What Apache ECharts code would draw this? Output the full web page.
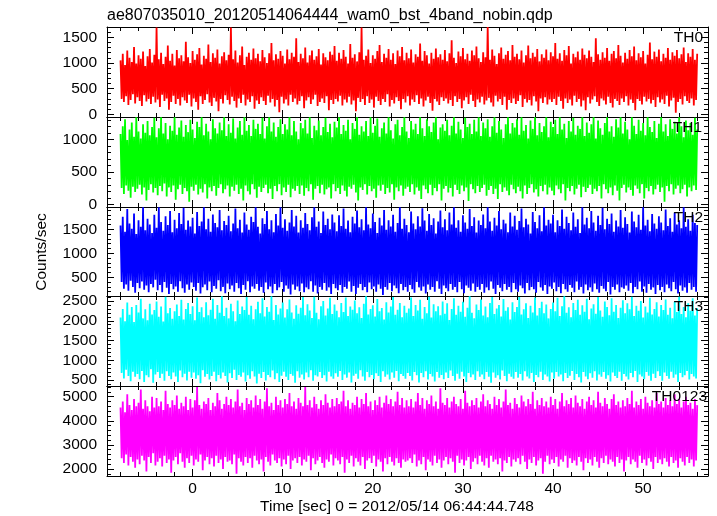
<!DOCTYPE html>
<html>
<head>
<meta charset="utf-8">
<script src="https://cdn.jsdelivr.net/npm/echarts@6/dist/echarts.min.js"></script>
<style>
html,body{margin:0;padding:0;background:#fff;}
#chart{width:717px;height:516px;}
</style>
</head>
<body>
<div id="chart"></div>
<script>
// Time bins (sec, 0 = 2012/05/14 06:44:44.748)
const tStart = -8;
const tStep = 0.125;

const panelNames = ['TH0', 'TH1', 'TH2', 'TH3', 'TH0123'];
const panelColors = ['#ff0000', '#00ff00', '#0000ff', '#00ffff', '#ff00ff'];

// Counts/sec values read (estimated) from the picture
const th0 = [
1050,300,1180,240,960,350,1240,180,1100,280,1020,390,1310,210,990,330,1150,260,1080,160,1220,370,940,250,1130,300,1270,200,1010,340,1160,230,
1690,290,1070,140,1200,380,980,260,1120,310,1340,90,1040,240,1180,360,950,200,1250,300,1090,170,1150,330,1030,270,1410,220,1110,380,1000,150,
1230,310,1060,240,1170,90,1290,350,970,200,1140,280,1080,390,1360,230,1020,160,1190,320,1100,250,1260,60,990,300,1130,210,1210,370,1050,280,
1160,190,1690,340,1070,260,1240,130,1010,310,1150,220,1320,380,960,170,1120,290,1200,240,1060,350,1280,110,1090,270,1180,200,1030,330,1250,260,
1110,180,1000,360,1190,230,1390,300,1050,150,1170,280,1080,40,1230,340,1140,210,990,290,1260,170,1070,380,1200,240,1120,310,1480,190,1020,260,
1180,350,1090,120,1300,270,1010,330,1150,200,1240,290,1060,380,1130,160,1270,240,970,310,1190,220,1110,350,1050,80,1220,280,1160,200,1330,300,
1040,250,1200,360,1080,170,1250,290,1120,230,990,340,1370,190,1100,270,1170,60,1030,320,1210,240,1690,300,1060,180,1140,350,1260,220,1000,290,
1150,130,1080,340,1230,260,1350,180,1020,300,1180,240,1100,390,1270,150,1060,280,1190,210,980,330,1240,260,1130,100,1310,300,1050,230,1200,350,
1090,170,1260,290,1010,240,1170,370,1120,200,1380,310,1040,150,1230,270,1150,340,990,220,1200,70,1080,300,1280,250,1110,180,1170,330,1060,260,
1250,310,1030,210,1190,280,1440,160,1100,350,1000,240,1220,300,1130,120,1290,270,1070,330,1180,200,1040,380,1240,260,1150,140,1320,290,1090,230,
1020,340,1210,190,1110,270,1700,320,1060,230,1260,150,1140,360,980,250,1190,300,1300,180,1080,340,1160,90,1230,280,1050,220,1350,310,1120,200,
1180,260,1070,370,1240,140,1010,300,1150,230,1340,280,1090,170,1200,350,1120,250,1270,60,1030,310,1170,220,1100,330,1260,190,1050,290,1210,240,
1130,300,1390,180,1080,340,1190,260,1040,110,1250,310,1150,220,1330,290,990,170,1180,360,1110,240,1220,300,1060,150,1280,270,1160,80,1090,330,
1240,210,1120,290,1020,350,1480,240,1170,160,1060,310,1210,270,1100,190,1290,340,1040,220,1180,130,1230,300,1090,260,1350,180,1140,310,1010,240,
1200,350,1080,170,1250,290,1130,220,1320,80,1050,300,1190,260,1110,190,1230,340,990,250,1160,300,1400,210,1070,280,1220,140,1120,330,1260,230,
1030,290,1180,200,1100,360,1290,150,1060,270,1210,320,1140,30,1250,240,1090,300,1170,190,1300,350,1020,260,1190,220,1120,310,1270,170,1060,280,
1180
];
const th1 = [
1080,250,1200,160,1310,290,990,210,1150,100,1260,270,1040,190,1340,240,1120,300,1010,150,1230,260,1100,60,1280,220,1060,310,1190,180,1330,250,
1030,140,1170,280,1340,200,1090,320,1250,120,1000,260,1210,190,1130,290,1340,70,1070,230,1180,300,1290,160,1040,250,1220,200,1110,40,1300,270,
1150,210,1020,300,1270,150,1190,240,1340,180,1060,310,1240,90,1120,260,1000,200,1310,280,1170,130,1090,250,1260,310,1140,170,1340,230,1050,290,
1230,120,1100,270,1320,210,1010,300,1180,160,1280,240,1070,60,1340,290,1130,200,1220,150,1050,310,1300,230,1160,100,1240,270,1080,190,1330,250,
1010,300,1200,170,1340,240,1120,80,1260,280,1040,200,1190,310,1310,140,1080,260,1230,190,1150,300,1340,110,1060,240,1280,210,1120,280,1000,160,
1250,290,1170,130,1300,250,1090,200,1340,310,1020,70,1210,240,1140,280,1290,170,1060,300,1190,150,1330,230,1110,260,1240,90,1030,310,1270,200,
1180,250,1340,160,1080,290,1220,210,1130,120,1300,270,1000,240,1250,300,1160,180,1340,60,1070,260,1200,220,1120,310,1280,150,1050,280,1340,200,
1100,240,1210,100,1320,290,1040,210,1170,300,1260,160,1090,250,1340,180,1140,310,1010,70,1230,260,1300,200,1060,290,1190,130,1340,240,1120,270,
1020,190,1280,310,1150,150,1240,260,1080,210,1340,80,1170,290,1050,230,1310,170,1200,300,1110,140,1260,250,1340,200,1000,310,1180,60,1230,240,
1130,280,1300,180,1060,250,1210,120,1340,300,1090,220,1270,160,1150,290,1020,200,1330,260,1190,50,1240,310,1080,230,1300,170,1120,280,1340,190,
1050,250,1260,300,1170,130,1310,220,1040,280,1200,160,1340,240,1100,80,1280,310,1150,190,1020,260,1230,210,1340,140,1090,300,1250,230,1180,170,
1310,270,1070,200,1340,90,1130,290,1220,160,1010,250,1290,310,1160,180,1340,230,1060,120,1250,280,1110,200,1200,300,1340,150,1030,260,1270,210,
1190,140,1300,290,1080,230,1340,170,1150,310,1240,60,1020,250,1280,200,1120,280,1330,150,1070,240,1210,300,1160,110,1340,270,1050,190,1260,250,
1100,300,1230,160,1340,240,1010,200,1290,280,1170,90,1070,310,1250,230,1340,170,1120,260,1200,140,1040,290,1310,210,1180,60,1340,250,1090,300,
1270,180,1150,260,1000,220,1340,130,1210,290,1080,240,1300,170,1130,310,1250,90,1060,250,1340,200,1190,280,1110,150,1280,230,1020,300,1240,190,
1340,260,1120,40,1230,280,1050,200,1310,310,1160,150,1270,240,1090,290,1340,170,1200,230,1030,300,1290,120,1140,260,1250,200,1070,290,1330,220,
1150
];
const th2 = [
1580,400,1760,260,1450,350,1920,220,1620,430,1510,300,1830,180,1400,380,1690,270,1550,410,1960,240,1480,330,1720,190,1600,360,1420,290,1800,450,
1530,230,1960,340,1650,190,1470,400,1770,280,1590,150,1880,360,1440,250,1700,310,1520,200,1840,420,1610,270,1950,180,1490,350,1680,240,1560,390,
1740,300,1410,220,1860,380,1570,160,1660,290,1960,350,1500,230,1720,410,1450,190,1810,320,1630,260,1540,440,1900,210,1480,300,1670,170,1590,370,
1780,250,1460,330,1620,200,1930,380,1520,270,1700,150,1430,340,1850,240,1600,420,1490,190,1760,310,1650,260,1960,360,1550,220,1410,300,1730,180,
1610,390,1880,250,1500,310,1690,170,1440,360,1820,230,1580,290,1960,400,1530,200,1710,330,1470,260,1640,140,1900,350,1560,240,1780,310,1430,210,
1690,370,1530,190,1840,290,1610,250,1480,420,1750,200,1960,330,1550,160,1660,300,1420,240,1870,380,1590,220,1720,290,1500,150,1810,360,1640,270,
1460,230,1790,340,1570,180,1930,300,1510,260,1680,410,1440,200,1760,320,1620,150,1890,280,1540,360,1710,230,1480,300,1960,190,1600,390,1520,250,
1830,310,1650,200,1420,350,1740,260,1580,130,1900,300,1490,240,1690,380,1560,210,1800,330,1450,270,1630,170,1960,360,1510,230,1720,300,1590,200,
1440,340,1870,250,1620,180,1500,400,1770,290,1560,220,1940,310,1680,160,1470,350,1820,240,1590,300,1730,200,1410,420,1660,260,1890,150,1540,330,
1710,270,1480,210,1850,360,1600,240,1960,300,1530,190,1690,400,1450,250,1790,170,1640,330,1510,280,1920,220,1570,370,1750,200,1430,300,1680,240,
1590,360,1810,180,1520,290,1960,230,1660,410,1470,260,1740,150,1580,340,1880,280,1500,210,1700,360,1620,240,1440,300,1850,190,1560,380,1780,250,
1490,200,1670,330,1930,270,1540,160,1720,380,1600,230,1410,300,1860,250,1650,180,1520,400,1790,290,1460,220,1960,340,1580,150,1700,310,1620,260,
1800,390,1440,210,1690,300,1570,170,1910,360,1510,250,1760,200,1630,340,1480,280,1850,190,1550,410,1710,240,1420,300,1960,160,1600,350,1740,230,
1520,290,1880,200,1640,370,1470,250,1780,180,1590,320,1950,260,1500,210,1720,400,1610,140,1830,300,1450,240,1680,350,1560,190,1900,290,1530,260,
1750,330,1610,220,1430,380,1870,170,1660,300,1540,250,1800,410,1490,200,1960,310,1580,180,1700,360,1460,240,1820,290,1620,150,1510,340,1770,230,
1640,300,1480,190,1910,350,1570,270,1730,210,1450,400,1850,250,1600,160,1690,330,1520,220,1960,290,1550,180,1710,380,1470,240,1800,300,1630,200,
1590
];
const th3 = [
2080,680,2300,540,1990,760,2460,600,2150,470,2350,710,1970,580,2400,650,2210,520,2560,730,2060,450,2290,620,2010,570,2430,770,2160,430,2270,640,
2490,700,2100,550,2360,660,1980,480,2610,720,2190,600,2320,520,2050,690,2240,590,2410,450,2120,740,2530,570,2030,660,2300,490,2450,710,2170,560,
2370,690,2010,530,2590,620,2220,420,2340,750,2090,580,2470,650,2140,510,2280,600,2560,710,2050,470,2400,630,2200,540,2620,690,2120,600,2330,440,
2060,670,2430,550,2240,760,1990,500,2510,630,2170,580,2360,690,2270,460,2600,620,2150,530,2380,720,2040,590,2290,410,2480,660,2190,550,2570,700,
2110,490,2350,630,2230,570,2620,740,2020,520,2400,670,2160,450,2310,610,2460,710,2080,580,2290,500,2540,650,2210,610,2050,430,2390,720,2180,560,
2330,640,2600,510,2140,690,2420,570,2260,750,2070,480,2610,620,2200,590,2040,700,2370,550,2500,620,2130,460,2310,710,2580,590,2170,530,2410,670,
2250,580,2090,730,2450,500,2220,640,2590,560,2120,690,2360,440,2280,610,2510,660,2190,530,2340,750,2070,590,2430,480,2620,700,2160,570,2300,630,
2390,520,2110,670,2550,600,2240,450,2320,720,2030,580,2470,640,2210,510,2360,690,2600,560,2150,730,2280,470,2450,650,2090,600,2380,530,2200,680,
2310,600,2590,490,2120,700,2400,620,2260,440,2530,680,2050,570,2350,720,2190,510,2610,650,2080,590,2420,460,2240,700,2370,560,2140,630,2490,520,
2180,690,2440,550,2020,740,2300,600,2570,480,2150,660,2380,530,2230,710,2480,590,2100,450,2330,680,2620,570,2200,640,2060,500,2410,720,2270,580,
2540,640,2130,520,2360,700,2090,580,2450,430,2600,690,2170,560,2310,620,2400,510,2110,740,2550,600,2250,470,2340,660,2030,580,2470,530,2220,700,
2350,560,2600,650,2160,490,2290,720,2440,590,2070,540,2380,680,2210,450,2590,630,2130,570,2320,710,2480,500,2190,640,2410,590,2060,460,2300,690,
2460,530,2240,700,2580,590,2120,640,2370,470,2620,680,2200,550,2340,610,2090,730,2450,500,2270,650,2530,570,2150,440,2390,700,2230,590,2560,520,
2040,670,2310,560,2420,720,2180,490,2600,640,2260,580,2100,700,2490,530,2350,620,2140,460,2570,690,2230,600,2400,550,2070,710,2330,480,2520,650,
2190,590,2440,510,2290,680,2610,570,2120,730,2380,450,2250,640,2500,590,2080,520,2360,700,2210,610,2580,480,2160,660,2300,550,2470,720,2110,600,
2400,480,2270,690,2540,600,2150,530,2330,710,2060,560,2480,640,2220,450,2610,680,2170,570,2350,620,2090,730,2440,510,2250,650,2570,590,2130,540,
2320
];
const th0123 = [
4550,2450,4800,2250,4350,2600,5100,2150,4650,2500,4450,2300,4900,2050,4600,2400,4750,2200,5300,2550,4500,2350,4850,1900,4600,2500,4400,2250,5000,2650,4550,2150,
4950,2300,4600,2450,4800,2100,4450,2550,5250,2250,4700,2400,4550,1850,4850,2350,4650,2500,5050,2200,4500,2650,4750,2300,4600,2050,5000,2450,4450,2250,4900,2550,
4550,2150,4850,2400,5400,2300,4650,2600,4500,1950,4800,2350,4700,2500,4950,2200,4450,2450,4750,2100,4600,2550,5150,2250,4850,2400,4500,2000,4700,2500,5000,2300,
4650,2350,4900,2200,4550,2600,4800,1800,5300,2450,4600,2300,4750,2150,4450,2500,4950,2250,4700,2450,4850,2050,4550,2550,5050,2350,4650,2200,4900,2400,4500,1900,
4800,2500,5350,2300,4600,2150,4750,2600,4450,2350,5000,2250,4650,2450,4850,2100,4550,2400,4900,2200,4700,2550,5150,2000,4600,2350,4800,2450,4500,2250,4950,2500,
4750,2150,4600,2400,5400,2300,4650,2550,4850,1950,4550,2450,5000,2200,4700,2350,4500,2500,4850,2250,4650,2050,5100,2400,4750,2300,4550,2600,4900,2150,4600,2450,
4950,2350,4700,2200,4800,2500,5250,1850,4600,2400,4850,2250,4500,2550,4750,2100,4650,2450,5000,2300,4550,2150,4900,2500,4700,2000,5150,2350,4600,2450,4800,2250,
4450,2550,4850,2100,4650,2400,5000,2300,4550,1900,4750,2450,5050,2200,4700,2500,4900,2300,4600,2150,4800,2450,5200,2250,4650,2050,4950,2400,4550,2300,4850,2350,
4600,2450,4900,2250,4550,2600,4800,2100,5150,2350,4650,2200,4950,2500,4500,1950,4850,2400,4700,2300,5050,2150,4600,2550,4800,2250,4500,2400,5350,2050,4750,2350,
4650,2500,4950,2200,4550,2450,4800,2300,5000,1850,4700,2550,4600,2250,4900,2400,4500,2150,5250,2350,4750,2500,4600,2000,4850,2300,4650,2450,4950,2200,4550,2550,
4800,2300,5100,2150,4600,2450,4850,2050,4700,2550,4500,2300,5000,2400,4650,2200,4900,2450,4550,1900,4800,2350,5300,2250,4650,2500,4750,2100,4500,2400,4950,2300,
4700,2450,4550,2200,5050,2550,4800,2300,4600,2000,4900,2400,4700,2250,5200,2500,4500,2150,4850,2350,4650,2450,4950,1800,4600,2300,4800,2550,4550,2200,5000,2400,
4650,2250,4900,2500,4500,2100,4800,2400,5150,2300,4600,2550,4850,2050,4700,2450,4950,2250,4550,2350,5050,2150,4750,2500,4600,2300,4900,1950,4500,2450,4800,2250,
5000,2400,4650,2150,4850,2500,4550,2300,5200,2050,4750,2450,4600,2250,4950,2550,4700,2200,4500,2400,4900,2300,5100,2100,4650,2500,4800,2250,4550,2400,4850,1900,
4600,2350,4950,2500,4700,2200,5250,2400,4550,2300,4800,2050,4650,2550,4900,2250,4500,2400,5000,2150,4750,2450,4600,2300,4850,2000,4550,2500,5150,2250,4700,2400,
4800,2200,4550,2450,4950,2300,4650,2100,4850,2500,4600,2250,5100,2350,4700,2050,4900,2450,4550,2300,4800,2150,5000,2500,4650,2250,4750,2400,4500,2100,4900,2350,
4650
];
const panelValues = [th0, th1, th2, th3, th0123];

// Axis ranges and tick values
const xMin = -9.5, xMax = 57.2;
const xMajor = [0, 10, 20, 30, 40, 50];
const xMinor = [-8, -6, -4, -2, 2, 4, 6, 8, 12, 14, 16, 18, 22, 24, 26, 28, 32, 34, 36, 38, 42, 44, 46, 48, 52, 54, 56];
const yMins = [-53, -42, 110, 348, 1710];
const yMaxs = [1700, 1343, 1964, 2627, 5444];
const yMajor = [
  [0, 500, 1000, 1500],
  [0, 500, 1000],
  [500, 1000, 1500],
  [500, 1000, 1500, 2000, 2500],
  [2000, 3000, 4000, 5000]
];
const yMinor = [
  [100, 200, 300, 400, 600, 700, 800, 900, 1100, 1200, 1300, 1400, 1600, 1700],
  [100, 200, 300, 400, 600, 700, 800, 900, 1100, 1200, 1300],
  [200, 300, 400, 600, 700, 800, 900, 1100, 1200, 1300, 1400, 1600, 1700, 1800, 1900],
  [400, 600, 700, 800, 900, 1100, 1200, 1300, 1400, 1600, 1700, 1800, 1900, 2100, 2200, 2300, 2400, 2600],
  [1800, 2200, 2400, 2600, 2800, 3200, 3400, 3600, 3800, 4200, 4400, 4600, 4800, 5200, 5400]
];

const titleText = 'ae807035010_20120514064444_wam0_bst_4band_nobin.qdp';
const xTitle = 'Time [sec] 0 = 2012/05/14 06:44:44.748';
const yTitle = 'Counts/sec';

// Layout
const gridLeft = 107, gridWidth = 601;
const gridTops = [27, 117, 207, 296, 386];
const gridHeights = [90, 90, 89, 90, 90];
const labelRight = [703, 702, 703, 703, 707];

const FONT = '"Liberation Sans", Arial, Helvetica, sans-serif';
const FS = 15.5;
const lineCol = '#000';
const plain = v => String(v);

const grids = [], xAxes = [], yAxes = [], series = [], graphics = [];

for (let p = 0; p < 5; p++) {
  grids.push({left: gridLeft, top: gridTops[p], width: gridWidth, height: gridHeights[p], containLabel: false});
  const xb = {gridIndex: p, type: 'value', min: xMin, max: xMax, splitLine: {show: false}, axisLabel: {show: false}};
  xAxes.push(Object.assign({}, xb, {
    position: 'bottom',
    axisLine: {show: true, onZero: false, lineStyle: {color: lineCol, width: 1}},
    axisTick: {show: true, inside: true, length: 7, customValues: xMajor, lineStyle: {color: lineCol}},
    axisLabel: p === 4 ? {show: true, customValues: xMajor, formatter: plain, color: '#000', fontFamily: FONT, fontSize: FS, margin: 5} : {show: false}
  }));
  xAxes.push(Object.assign({}, xb, {
    position: 'bottom',
    axisLine: {show: false, onZero: false},
    axisTick: {show: true, inside: true, length: 4, customValues: xMinor, lineStyle: {color: lineCol}}
  }));
  xAxes.push(Object.assign({}, xb, {
    position: 'top',
    axisLine: {show: true, onZero: false, lineStyle: {color: lineCol, width: 1}},
    axisTick: {show: true, inside: true, length: 7, customValues: xMajor, lineStyle: {color: lineCol}}
  }));
  xAxes.push(Object.assign({}, xb, {
    position: 'top',
    axisLine: {show: false, onZero: false},
    axisTick: {show: true, inside: true, length: 4, customValues: xMinor, lineStyle: {color: lineCol}}
  }));

  const yb = {gridIndex: p, type: 'value', min: yMins[p], max: yMaxs[p], splitLine: {show: false}, axisLabel: {show: false}};
  yAxes.push(Object.assign({}, yb, {
    position: 'left',
    axisLine: {show: true, onZero: false, lineStyle: {color: lineCol, width: 1}},
    axisTick: {show: true, inside: true, length: 7, customValues: yMajor[p], lineStyle: {color: lineCol}},
    axisLabel: {show: true, customValues: yMajor[p], formatter: plain, color: '#000', fontFamily: FONT, fontSize: FS, margin: 10}
  }));
  yAxes.push(Object.assign({}, yb, {
    position: 'left',
    axisLine: {show: false, onZero: false},
    axisTick: {show: true, inside: true, length: 4, customValues: yMinor[p], lineStyle: {color: lineCol}}
  }));
  yAxes.push(Object.assign({}, yb, {
    position: 'right',
    axisLine: {show: true, onZero: false, lineStyle: {color: lineCol, width: 1}},
    axisTick: {show: true, inside: true, length: 7, customValues: yMajor[p], lineStyle: {color: lineCol}}
  }));
  yAxes.push(Object.assign({}, yb, {
    position: 'right',
    axisLine: {show: false, onZero: false},
    axisTick: {show: true, inside: true, length: 4, customValues: yMinor[p], lineStyle: {color: lineCol}}
  }));

  series.push({
    name: panelNames[p],
    type: 'line',
    xAxisIndex: p * 4,
    yAxisIndex: p * 4,
    data: panelValues[p].map((v, i) => [tStart + i * tStep, v]),
    showSymbol: false,
    symbol: 'none',
    sampling: null,
    lineStyle: {color: panelColors[p], width: 1.8, join: 'bevel'},
    itemStyle: {color: panelColors[p]},
    animation: false,
    silent: true
  });

  graphics.push({
    type: 'text', x: labelRight[p], y: gridTops[p] + 10.5,
    style: {text: panelNames[p], fill: '#000', font: FS + 'px ' + FONT, textAlign: 'right', textVerticalAlign: 'middle'},
    z: 100
  });
}

graphics.push({
  type: 'text', x: 107, y: 15.5,
  style: {text: titleText, fill: '#000', font: '16px ' + FONT, textAlign: 'left', textVerticalAlign: 'middle'}
});
graphics.push({
  type: 'text', x: 397, y: 507,
  style: {text: xTitle, fill: '#000', font: FS + 'px ' + FONT, textAlign: 'center', textVerticalAlign: 'middle'}
});
graphics.push({
  type: 'text', x: 42, y: 252, rotation: Math.PI / 2,
  style: {text: yTitle, fill: '#000', font: FS + 'px ' + FONT, textAlign: 'center', textVerticalAlign: 'middle'}
});

const chart = echarts.init(document.getElementById('chart'), null, {renderer: 'canvas'});
chart.setOption({
  animation: false,
  backgroundColor: '#fff',
  grid: grids,
  xAxis: xAxes,
  yAxis: yAxes,
  series: series,
  graphic: graphics
});
</script>
</body>
</html>
